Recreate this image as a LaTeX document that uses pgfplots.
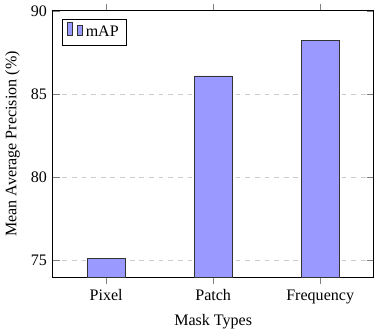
\documentclass[border=0pt]{standalone}
\usepackage{pgfplots}
\pgfplotsset{compat=1.18}
\usepackage{fontspec}
\setmainfont{Liberation Serif}
\begin{document}
\begin{tikzpicture}
\begin{axis}[
  scale only axis,
  width=200pt, height=166pt,
  ybar, bar width=23.5pt,
  ymin=74, ymax=90,
  ytick={75,80,85,90},
  xmin=-0.5, xmax=2.5,
  xtick=data,
  xticklabels={Pixel,Patch,Frequency},
  xlabel={Mask Types},
  ylabel={Mean Average Precision (\%)},
  ymajorgrids, grid style={dashed,gray!40},
  /pgf/number format/assume math mode=true,
  legend pos=north west,
]
\addplot[fill=blue!40, draw=black!80] coordinates {(0,75.12) (1,86.09) (2,88.2)};
\legend{mAP}
\end{axis}
\end{tikzpicture}
\end{document}
